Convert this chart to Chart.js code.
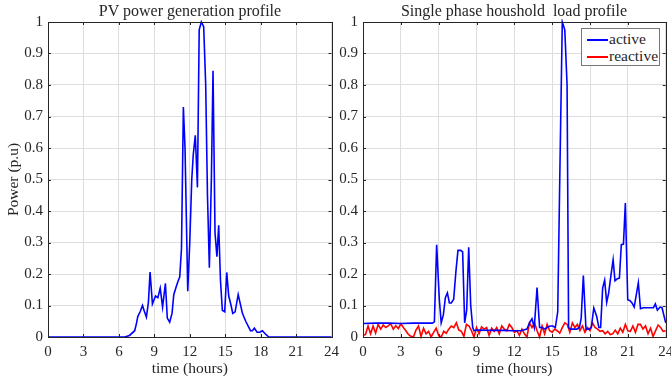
<!DOCTYPE html>
<html lang="en">
<head>
<meta charset="UTF-8">
<title>PV generation and household load profiles</title>
<script src="https://cdn.jsdelivr.net/npm/chart.js"></script>
<style>
    body { margin: 0; background: #fff; }
    #wrap {
        position: relative;
        width: 671px;
        height: 383px;
        overflow: hidden;
        font-family: "Liberation Serif", "Times New Roman", serif;
        color: #262626;
    }
    canvas { position: absolute; top: 0; }
    #pvCanvas { left: 0; }
    #loadCanvas { left: 335px; }
    .ttl {
        position: absolute;
        top: 2px;
        font-size: 16px;
        white-space: pre;
        transform: translateX(-50%);
        line-height: 18px;
    }
    /* legend inside the load plot */
    .legend {
        position: absolute;
        left: 581px;
        top: 28px;
        width: 77px;
        height: 36px;
        background: #fff;
        border: 1px solid #777;
        font-size: 15.5px;
    }
    .legend div { position: absolute; left: 5px; height: 18px; line-height: 18px; }
    .legend span.ln {
        display: inline-block;
        width: 21px;
        height: 0;
        border-top: 2px solid;
        vertical-align: middle;
        margin-right: 1px;
    }
</style>
</head>
<body>
<div id="wrap">
    <canvas id="pvCanvas" width="340" height="383"></canvas>
    <canvas id="loadCanvas" width="336" height="383"></canvas>
    <div class="ttl" style="left:190px">PV power generation profile</div>
    <div class="ttl" style="left:514px">Single phase houshold  load profile</div>
    <div class="legend">
        <div style="top:1px"><span class="ln" style="border-color:#0000ff"></span>active</div>
        <div style="top:18px"><span class="ln" style="border-color:#ff0000"></span>reactive</div>
    </div>
</div>

<script>
    // PV generation (hours, p.u.)
    const pvHours = [0, 6.5, 6.9, 7.34, 7.5, 7.6, 7.8, 8.0, 8.17, 8.33, 8.5, 8.64, 8.84, 9.1, 9.3, 9.5, 9.7, 9.94,
        10.1, 10.3, 10.5, 10.65, 10.9, 11.04, 11.15, 11.3, 11.46, 11.6, 11.83, 12.0, 12.17, 12.3, 12.47, 12.65,
        12.8, 12.98, 13.18, 13.35, 13.5, 13.66, 13.83, 13.97, 14.14, 14.3, 14.45, 14.6, 14.76, 14.96, 15.13,
        15.3, 15.5, 15.64, 15.84, 16.1, 16.46, 16.74, 17.14, 17.3, 17.47, 17.7, 17.93, 18.15, 18.44, 18.7, 24];
    const pvPower = [0, 0, 0.005, 0.02, 0.045, 0.065, 0.08, 0.10, 0.08, 0.063, 0.11, 0.206, 0.105, 0.13, 0.125,
        0.155, 0.095, 0.17, 0.06, 0.047, 0.075, 0.135, 0.165, 0.18, 0.19, 0.28, 0.73, 0.6, 0.145, 0.3, 0.5, 0.58,
        0.64, 0.475, 0.975, 1.0, 0.985, 0.8, 0.45, 0.22, 0.5, 0.845, 0.33, 0.255, 0.355, 0.18, 0.085, 0.08,
        0.205, 0.13, 0.1, 0.075, 0.08, 0.135, 0.075, 0.05, 0.02, 0.02, 0.028, 0.015, 0.015, 0.02, 0.008, 0, 0];

    // household active load (hours, p.u.)
    const loadHours = [0, 1, 2, 3, 4, 5, 5.5, 5.66, 5.84, 6.05, 6.2, 6.37, 6.53, 6.69, 6.85, 7.0, 7.19, 7.37,
        7.53, 7.75, 7.9, 8.06, 8.22, 8.38, 8.54, 8.7, 8.8, 9, 10, 11, 12, 12.5, 13.0, 13.2, 13.4, 13.58, 13.8,
        14.0, 14.2, 14.43, 14.6, 14.83, 15.04, 15.25, 15.44, 15.6, 15.8, 16.0, 16.18, 16.3, 16.47, 16.68, 16.95,
        17.16, 17.3, 17.47, 17.68, 17.9, 18.1, 18.3, 18.53, 18.7, 18.84, 19.0, 19.16, 19.32, 19.48, 19.64,
        19.83, 19.98, 20.17, 20.33, 20.48, 20.65, 20.8, 20.99, 21.17, 21.33, 21.5, 21.65, 21.83, 22.0, 22.23,
        22.63, 23.03, 23.18, 23.34, 23.55, 23.71, 24];
    const loadActive = [0.043, 0.044, 0.044, 0.043, 0.044, 0.044, 0.044, 0.048, 0.293, 0.12, 0.045, 0.07,
        0.125, 0.14, 0.108, 0.108, 0.12, 0.21, 0.275, 0.275, 0.27, 0.045, 0.085, 0.285, 0.1, 0.03, 0.02, 0.022,
        0.021, 0.021, 0.02, 0.02, 0.025, 0.045, 0.058, 0.03, 0.157, 0.03, 0.03, 0.025, 0.03, 0.035, 0.035, 0.03,
        0.08, 0.5, 1.0, 0.975, 0.8, 0.03, 0.025, 0.025, 0.025, 0.03, 0.06, 0.195, 0.025, 0.025, 0.03, 0.092,
        0.065, 0.03, 0.03, 0.155, 0.18, 0.11, 0.14, 0.19, 0.245, 0.178, 0.185, 0.187, 0.293, 0.295, 0.425,
        0.118, 0.115, 0.108, 0.095, 0.13, 0.172, 0.09, 0.093, 0.093, 0.093, 0.105, 0.085, 0.095, 0.093, 0.045];

    // household reactive load, every 0.2 h from 0 to 24
    const reactiveStep = 0.2;
    const loadReactive = [0.005, 0.008, 0.035, 0.01, 0.035, 0.012, 0.04, 0.025, 0.038, 0.03, 0.035, 0.042,
        0.025, 0.036, 0.027, 0.042, 0.03, 0.02, 0.008, 0.002, 0.0, 0.022, 0.035, 0.002, 0.028, 0.01, 0.018,
        0.0, 0.015, 0.028, 0.005, 0.0, 0.018, 0.012, 0.025, 0.035, 0.03, 0.045, 0.022, 0.018, 0.002, 0.04,
        0.035, 0.02, 0.0, 0.03, 0.01, 0.032, 0.025, 0.03, 0.005, 0.028, 0.018, 0.03, 0.01, 0.035, 0.025, 0.02,
        0.04, 0.03, 0.015, 0.02, 0.005, 0.025, 0.01, 0.0, 0.045, 0.03, 0.045, 0.02, 0.0, 0.035, 0.01, 0.04,
        0.02, 0.015, 0.025, 0.02, 0.012, 0.03, 0.045, 0.04, 0.015, 0.045, 0.03, 0.04, 0.02, 0.035, 0.015, 0.03,
        0.02, 0.045, 0.03, 0.025, 0.018, 0.02, 0.01, 0.018, 0.008, 0.01, 0.022, 0.01, 0.028, 0.015, 0.04, 0.02,
        0.018, 0.035, 0.015, 0.04, 0.04, 0.025, 0.035, 0.01, 0.028, 0.002, 0.02, 0.038, 0.03, 0.018, 0.02];

    const xTicks = [0, 24, 3];   // min, max, step
    const yTicks = [0, 1, 0.1];

    const pts = (xs, ys) => ys.map((v, i) => ({ x: xs[i], y: v }));
    const reactivePts = loadReactive.map((v, i) => ({ x: +(i * reactiveStep).toFixed(1), y: v }));

    const FONT = "'Liberation Serif', 'Times New Roman', serif";
    const AXIS = '#262626';

    // MATLAB style box with inward ticks on all four sides
    const boxPlugin = {
        id: 'box',
        afterDraw(chart) {
            const { ctx, chartArea: a, scales } = chart;
            ctx.save();
            ctx.strokeStyle = AXIS;
            ctx.lineWidth = 1;
            ctx.beginPath();
            scales.x.ticks.forEach(t => {
                const px = Math.round(scales.x.getPixelForValue(t.value)) + 0.5;
                ctx.moveTo(px, a.bottom); ctx.lineTo(px, a.bottom - 3);
                ctx.moveTo(px, a.top); ctx.lineTo(px, a.top + 3);
            });
            scales.y.ticks.forEach(t => {
                const py = Math.round(scales.y.getPixelForValue(t.value)) + 0.5;
                ctx.moveTo(a.left, py); ctx.lineTo(a.left + 3, py);
                ctx.moveTo(a.right, py); ctx.lineTo(a.right - 3, py);
            });
            ctx.stroke();
            ctx.strokeRect(Math.round(a.left) + 0.5, Math.round(a.top) + 0.5,
                Math.round(a.right - a.left), Math.round(a.bottom - a.top));
            ctx.restore();
        }
    };

    function makeOptions(yWidth, padRight, showYTitle) {
        return {
            responsive: false,
            animation: false,
            layout: { padding: { top: 22, right: padRight, left: 0, bottom: 0 } },
            plugins: { legend: { display: false }, tooltip: { enabled: false } },
            elements: { point: { radius: 0 }, line: { tension: 0, borderWidth: 1.6 } },
            scales: {
                x: {
                    type: 'linear',
                    min: xTicks[0], max: xTicks[1],
                    grid: { color: '#dedede', drawTicks: false },
                    border: { display: false },
                    ticks: { stepSize: xTicks[2], color: AXIS, padding: 6, maxRotation: 0,
                        font: { family: FONT, size: 15 } },
                    title: { display: true, text: 'time (hours)', color: AXIS,
                        font: { family: FONT, size: 15.5 }, padding: { top: 0, bottom: 5 } },
                    afterFit(s) { s.height = 46; s.paddingLeft = 0; s.paddingRight = 0; }
                },
                y: {
                    min: yTicks[0], max: yTicks[1],
                    grid: { color: '#dedede', drawTicks: false },
                    border: { display: false },
                    ticks: { stepSize: yTicks[2], color: AXIS, padding: 5,
                        font: { family: FONT, size: 15 },
                        callback: v => String(+v.toFixed(1)) },
                    title: { display: showYTitle, text: 'Power (p.u)', color: AXIS,
                        font: { family: FONT, size: 15.5 }, padding: { top: 5, bottom: 0 } },
                    afterFit(s) { s.width = yWidth; s.paddingTop = 0; s.paddingBottom = 0; }
                }
            }
        };
    }

    new Chart(document.getElementById('pvCanvas'), {
        type: 'line',
        data: {
            datasets: [{ label: 'PV', data: pts(pvHours, pvPower), borderColor: '#0000ff', clip: 3 }]
        },
        options: makeOptions(48, 8.5, true),
        plugins: [boxPlugin]
    });

    new Chart(document.getElementById('loadCanvas'), {
        type: 'line',
        data: {
            datasets: [
                { label: 'active', data: pts(loadHours, loadActive), borderColor: '#0000ff', clip: 3 },
                { label: 'reactive', data: reactivePts, borderColor: '#ff0000', clip: 3 }
            ]
        },
        options: makeOptions(28, 5.3, false),
        plugins: [boxPlugin]
    });
</script>
</body>
</html>
